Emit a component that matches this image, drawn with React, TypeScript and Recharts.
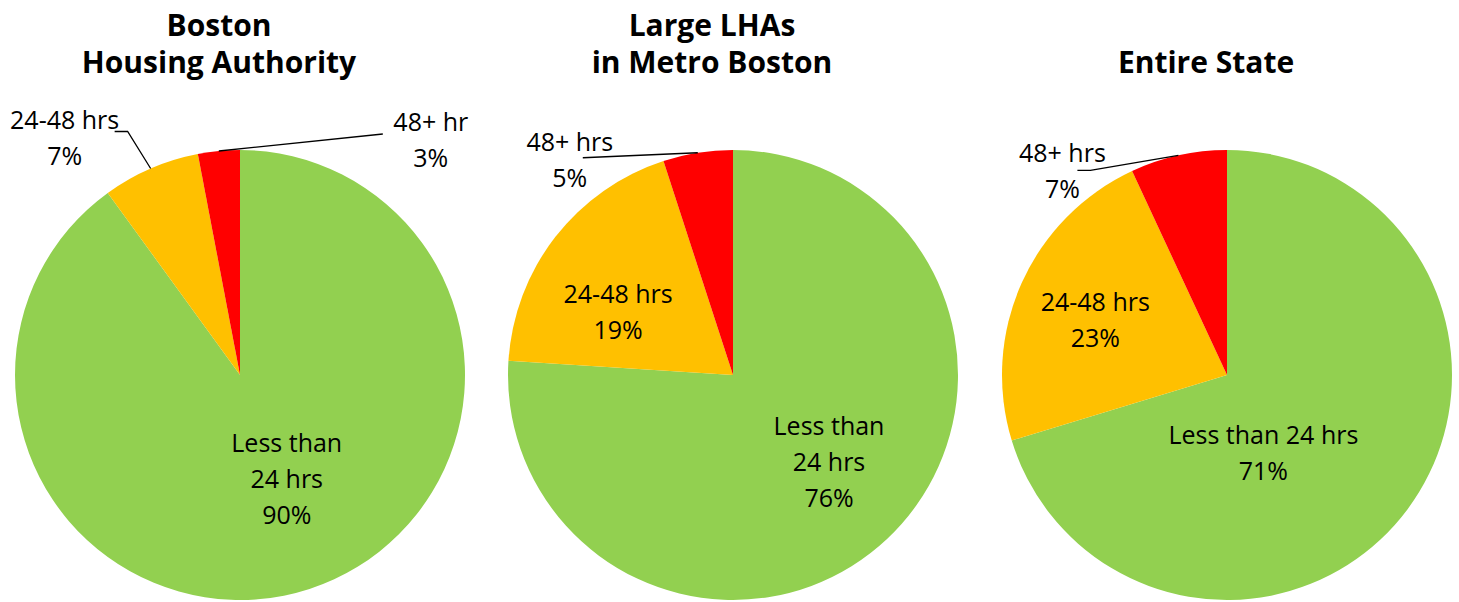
import React from "react";
import { PieChart, Pie, Cell } from "recharts";

const categories = ["Less than 24 hrs", "24-48 hrs", "48+ hrs"];
const colors = ["#92D050", "#FFC000", "#FF0000"];

const bostonValues = [90, 7, 3];
const metroValues = [76, 19, 5];
const stateValues = [71, 23, 7];

const bostonTitle = ["Boston", "Housing Authority"];
const metroTitle = ["Large LHAs", "in Metro Boston"];
const stateTitle = ["Entire State"];

const bostonNames = [["Less than", "24 hrs"], ["24-48 hrs"], ["48+ hr"]];
const metroNames = [["Less than", "24 hrs"], ["24-48 hrs"], ["48+ hrs"]];
const stateNames = [["Less than 24 hrs"], ["24-48 hrs"], ["48+ hrs"]];

const FONT = "'Open Sans', 'Liberation Sans', sans-serif";
const RADIUS = 225;
const CY = 375;
const LINE = 36;

// label placement: k = fraction of radius along the slice middle, dx/dy nudge,
// leader = elbow points relative to the slice edge
type LabelSpot = { k: number; dx: number; dy: number; leader?: [number, number][] };

const bostonSpots: LabelSpot[] = [
  { k: 0.5, dx: 12, dy: -4 },
  { k: 1, dx: -86, dy: -32, leader: [[-23, -37], [-36, -37]] },
  { k: 1, dx: 212, dy: -12, leader: [[164, -17]] },
];
const metroSpots: LabelSpot[] = [
  { k: 0.5, dx: 19, dy: 4 },
  { k: 0.5, dx: -26, dy: 5 },
  { k: 1, dx: -128, dy: 6, leader: [[-115, 5]] },
];
const stateSpots: LabelSpot[] = [
  { k: 0.5, dx: -54, dy: 10 },
  { k: 0.5, dx: -29, dy: -10 },
  { k: 1, dx: -116, dy: 15, leader: [[-88, 15], [-101, 15]] },
];

const RAD = Math.PI / 180;

function makeLabel(names: string[][], spots: LabelSpot[]) {
  return (props: any) => {
    const { cx, cy, midAngle, outerRadius, index, value } = props;
    const spot = spots[index];
    const ex = cx + Math.cos(-midAngle * RAD) * outerRadius;
    const ey = cy + Math.sin(-midAngle * RAD) * outerRadius;
    const px = cx + Math.cos(-midAngle * RAD) * outerRadius * spot.k + spot.dx;
    const py = cy + Math.sin(-midAngle * RAD) * outerRadius * spot.k + spot.dy;
    const lines = [...names[index], `${value}%`];
    const pts = spot.leader
      ? [[ex, ey], ...spot.leader.map(([lx, ly]) => [ex + lx, ey + ly])]
      : null;
    return (
      <g key={`lbl-${index}`}>
        {pts && (
          <polyline
            points={pts.map((p) => p.join(",")).join(" ")}
            fill="none"
            stroke="#000"
            strokeWidth={1.3}
          />
        )}
        <text
          x={px}
          textAnchor="middle"
          fontFamily={FONT}
          fontSize={25}
          fill="#000"
        >
          {lines.map((t, i) => (
            <tspan
              key={i}
              x={px}
              y={py + (i - (lines.length - 1) / 2) * LINE}
              dominantBaseline="central"
            >
              {t}
            </tspan>
          ))}
        </text>
      </g>
    );
  };
}

const pies = [
  { key: "boston", cx: 240, values: bostonValues, names: bostonNames, spots: bostonSpots, title: bostonTitle },
  { key: "metro", cx: 733, values: metroValues, names: metroNames, spots: metroSpots, title: metroTitle },
  { key: "state", cx: 1227, values: stateValues, names: stateNames, spots: stateSpots, title: stateTitle },
];

export default function App() {
  return (
    <div style={{ position: "relative", width: 1459, height: 602, background: "#fff" }}>
      <style>{`body{margin:0}`}</style>
      <PieChart width={1459} height={602} margin={{ top: 0, right: 0, bottom: 0, left: 0 }}>
        {pies.map((p) => (
          <Pie
            key={p.key}
            data={p.values.map((v, i) => ({ name: categories[i], value: v }))}
            dataKey="value"
            nameKey="name"
            cx={p.cx}
            cy={CY}
            outerRadius={RADIUS}
            startAngle={90}
            endAngle={-270}
            stroke="none"
            labelLine={false}
            label={makeLabel(p.names, p.spots)}
            isAnimationActive={false}
          >
            {p.values.map((_, i) => (
              <Cell key={i} fill={colors[i]} />
            ))}
          </Pie>
        ))}
      </PieChart>
      {pies.map((p) => (
        <div
          key={p.key}
          style={{
            position: "absolute",
            left: p.cx - 21 - 200,
            width: 400,
            top: p.title.length === 1 ? 43 : 6,
            textAlign: "center",
            fontFamily: FONT,
            fontWeight: 700,
            fontSize: 30,
            lineHeight: "37px",
            color: "#000",
          }}
        >
          {p.title.map((t, i) => (
            <div key={i}>{t}</div>
          ))}
        </div>
      ))}
    </div>
  );
}
